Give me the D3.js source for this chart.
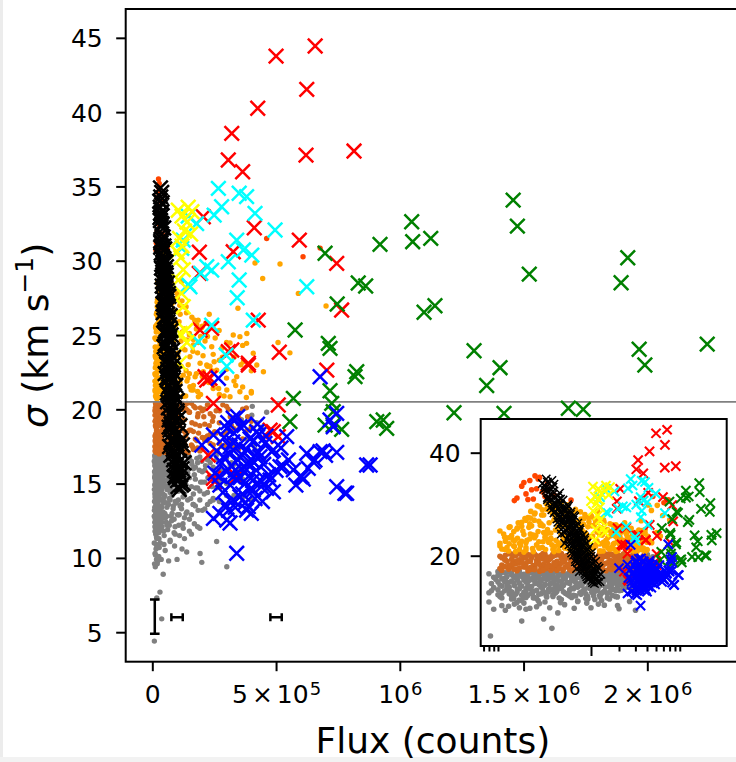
<!DOCTYPE html>
<html>
<head>
<meta charset="utf-8">
<script src="https://cdn.jsdelivr.net/npm/d3@7"></script>
<style>
	body { margin: 0; background: #fff; }
	svg { display: block; font-family: "DejaVu Sans", sans-serif; }
</style>
</head>
<body>
<div id="chart"></div>
<script>
//------------------------------------------------------------------------------
// Data: [flux (10^3 counts), sigma (km/s)]
//------------------------------------------------------------------------------

var grayPts = [
	[8,16.5],[9,15.8],[12,16.7],[15,14.2],[18,16.1],[22,15.3],[25,16.8],[30,13.9],[35,16.4],[40,15.1],
	[8.5,13.2],[10,12.4],[13,14.8],[16,12.9],[20,13.6],[24,11.8],[28,14.9],[33,12.2],[38,13.4],[44,16.0],
	[8,11.0],[11,10.3],[14,11.6],[17,9.9],[19,10.8],[23,12.7],[27,11.3],[31,15.6],[36,14.4],[42,12.9],
	[8.5,14.6],[9,13.8],[12,15.2],[14,16.3],[17,14.7],[21,16.6],[26,15.8],[29,12.6],[34,15.9],[39,16.7],
	[9.5,15.4],[10,16.9],[13,13.5],[16,15.9],[19,12.0],[23,14.0],[27,16.2],[32,14.5],[37,16.2],[43,14.3],
	[8,12.8],[11,14.1],[15,10.6],[18,11.3],[21,15.0],[24,13.1],[26,10.1],[30,16.5],[35,13.0],[41,15.5],
	[9,9.6],[12,9.4],[16,10.9],[20,11.9],[22,9.8],[25,14.6],[29,15.3],[33,16.9],[46,13.7],[48,15.0],
	[50,16.6],[55,14.8],[60,16.1],[65,13.6],[70,15.7],[75,16.9],[80,14.2],[88,16.4],[95,15.3],[100,16.8],
	[105,13.9],[112,15.9],[120,16.5],[128,14.7],[135,16.1],[142,15.4],[150,16.8],[160,16.3],[170,15.6],[180,16.7],
	[190,15.9],[200,16.5],[215,16.2],[230,16.8],[245,16.0],[260,16.6],[280,16.3],[300,16.9],[320,16.4],[350,16.7],
	[58,12.8],[62,11.9],[68,14.9],[78,12.5],[85,13.5],[92,12.1],[98,14.5],[108,12.9],[118,13.3],[125,12.0],
	[132,15.0],[140,13.1],[155,14.0],[165,13.6],[175,14.7],[185,13.2],[195,15.1],[210,14.3],[225,15.4],[240,14.8],
	[255,15.6],[270,15.2],[52,10.5],[72,11.2],[90,10.8],[110,11.5],[139,10.4],[193,10.3],[200,9.7],[260,11.1],
	[301,9.4],[44,8.9],[31,7.7],[38,5.9],[8.3,4.4],[18,7.3],[150,11.8],[170,12.3],[100,9.9],
	[300,18.5],[404,20.2],[462,19.8],[402,19.6],[422,19.1],[408,17.6],[415,17.3],[449,16.6],[380,18.0],[440,18.8],
	[330,17.5],[360,19.3],
	[10,16.2],[11,16.8],[12.5,15.9],[14,16.6],[15.5,16.0],[17,16.9],[19,16.4],[21,15.8],[23.5,16.7],[26,16.1],
	[29,16.8],[32,15.7],[35,16.6],[39,16.2],[43,16.9],[48,16.3],[53,15.9],[59,16.7],[65,16.2],[72,16.8],
	[80,15.8],[88,16.5],[97,16.1],[107,16.7],[118,16.2],[130,16.9],[143,15.9],[158,16.5],[174,16.1],[192,16.8],
	[212,15.9],[234,16.4],[258,16.9],[285,15.8],[315,16.2],[348,16.0],[385,16.5],
	[10,14.9],[11,15.5],[12.5,14.4],[14,15.1],[15.5,15.7],[17,14.6],[19,15.3],[21,14.2],[23.5,15.6],[26,14.7],
	[29,15.1],[32,14.3],[35,15.5],[39,14.8],[43,15.3],[48,14.1],[53,15.6],[59,14.6],[65,15.2],[72,14.4],
	[80,15.5],[88,14.9],[97,15.4],[107,14.5],[118,15.1],[130,14.3],[143,15.7],[158,14.8],[174,15.3],[192,14.5],
	[212,15.1],[234,15.5],[258,14.7],[285,15.2],[315,15.6],
	[10,13.4],[11,12.7],[12.5,13.9],[14,13.0],[15.5,12.5],[17,13.6],[19,12.9],[21,13.8],[23.5,12.6],[26,13.3],
	[29,13.9],[32,12.8],[35,13.5],[39,12.4],[43,13.1],[48,13.8],[53,12.7],[59,13.4],[65,12.3],[72,13.9],
	[80,13.0],[88,12.6],[97,13.7],[107,12.9],[118,13.6],[130,12.7],[143,13.9],[158,12.9],[174,13.5],[192,13.9],
	[212,13.3],[234,13.8],
	[11,11.8],[14,12.2],[17,11.4],[21,12.3],[26,11.7],[32,11.0],[39,12.1],[48,11.5],[59,12.2],[72,11.1],
	[88,11.7],[107,12.2],[130,11.3],[158,11.6],[192,12.0],
	[13,10.2],[20,9.6],[28,10.7],[36,9.9],[47,10.9],[66,9.8],[120,10.6],
	[10.5,16.4],[11.8,15.6],[13.2,16.8],[14.8,15.9],[16.2,16.5],[18,16.0],[20,15.5],[22.3,16.7],[24.7,16.2],[27.5,15.7],
	[30.5,16.6],[33.5,16.1],[37,15.8],[41,16.9],[45.5,16.3],[50.5,15.6],[56,16.5],[62,16.0],[68.5,16.8],[76,15.7],
	[84,16.4],[92.5,16.1],[102,15.9],[112.5,16.6],[124,16.2],[136.5,15.5],[150,16.8],[166,16.0],[183,16.4],[202,15.8],
	[223,16.6],[246,16.1],[271,15.9],[300,16.7],[330,16.3],[365,16.0],[400,16.5],
	[10.5,14.3],[11.8,15.0],[13.2,13.9],[14.8,14.7],[16.2,15.3],[18,14.1],[20,14.9],[22.3,13.8],[24.7,15.2],[27.5,14.4],
	[30.5,14.0],[33.5,15.4],[37,14.6],[41,13.9],[45.5,15.1],[50.5,14.2],[56,14.8],[62,15.3],[68.5,14.0],[76,14.6],
	[84,15.0],[92.5,13.8],[102,14.5],[112.5,15.2],[124,14.1],[136.5,14.9],[150,15.4],[166,14.3],[183,14.7],[202,15.1],
	[223,14.4],[246,13.9],[271,14.8],[300,15.0],[330,14.2],[365,15.3],[400,14.6],
	[10.5,12.1],[11.8,13.2],[13.2,12.6],[14.8,11.7],[16.2,13.5],[18,12.3],[20,12.9],[22.3,13.6],[24.7,11.9],[27.5,12.5],
	[30.5,13.1],[33.5,12.0],[37,13.4],[41,12.7],[45.5,11.8],[50.5,13.0],[56,12.4],[62,13.7],[68.5,12.2],[76,12.8],
	[84,13.3],[92.5,11.6],[102,12.9],[112.5,13.5],[124,12.3],[136.5,13.0],[150,12.6],[166,13.6],[183,12.1],[202,13.2],
	[223,13.6],[246,14.0],[271,13.8],[300,14.2],[330,13.7],[365,14.1],[400,13.9]
];

var brownPts = [
	[11,18.2],[12,20.1],[13,17.4],[14,19.3],[15,18.8],[16,17.1],[17,20.4],[18,19.0],[19,17.8],[20,18.5],
	[21,20.2],[22,17.3],[23,19.6],[24,18.1],[25,17.6],[26,20.0],[27,18.9],[28,17.0],[30,19.4],[31,18.4],
	[32,20.3],[33,17.5],[35,19.1],[36,18.0],[37,17.2],[39,19.9],[40,18.6],[42,17.7],[44,20.2],[46,18.3],
	[48,19.5],[50,17.1],[52,18.8],[55,20.0],[57,17.9],[60,19.2],[62,18.4],[65,17.3],[68,20.4],[70,18.9],
	[73,17.6],[76,19.7],[80,18.1],[83,20.1],[86,17.2],[90,19.0],[94,18.5],[98,17.8],[102,20.3],[106,19.4],
	[110,17.4],[115,18.7],[120,20.0],[125,17.9],[130,19.3],[135,18.2],[140,20.4],[145,17.1],[150,19.8],[156,18.6],
	[162,17.5],[168,20.2],[174,19.0],[180,17.9],[187,18.4],[194,20.1],[200,17.3],[208,19.5],[216,18.1],[225,20.3],
	[234,17.7],[243,19.2],[252,18.5],[262,17.2],[272,19.9],[283,18.3],[295,17.6],[307,20.0],[320,18.9],[335,17.4],
	[350,19.4],[365,18.0],[380,20.1],[160,19.1],[185,19.7],[210,20.0],[130,17.7],[95,20.2],[75,18.3],[230,18.9],
	[12,19.2],[14,17.9],[17,18.6],[20,19.8],[24,20.4],[29,17.9],[34,19.0],[38,20.0],[45,17.5],[53,19.9],
	[11,19.6],[12.5,17.8],[14,20.3],[15.5,18.4],[17,17.6],[19,19.7],[21,18.9],[23.5,17.4],[26,19.1],[29,20.1],
	[32,18.0],[35,19.7],[39,17.5],[43,18.9],[48,20.4],[53,17.8],[59,19.6],[65,18.6],[72,20.0],[80,17.4],
	[88,19.3],[97,18.3],[107,17.6],[118,19.1],[130,20.2],[143,18.5],[158,17.6],[174,20.1],[192,18.9],[212,17.9],
	[234,19.7],[258,18.4],[285,20.3],[315,17.8],[348,19.0],[385,18.6],
	[11,17.2],[12.5,18.9],[14,18.3],[15.5,20.0],[17,19.2],[19,18.1],[21,17.1],[23.5,20.2],[26,18.5],[29,17.3],
	[32,19.3],[35,18.2],[39,20.3],[43,17.2],[48,18.6],[53,19.4],[59,17.3],[65,20.3],[72,18.2],[80,19.5],
	[88,17.6],[97,20.1],[107,18.9],[118,17.6],[130,18.5],[143,19.9],[158,20.4],[174,18.0],[192,17.2],[212,19.0],
	[234,18.3],[258,19.9],[285,17.5],[315,19.5],[348,17.3],[385,19.5],
	[10.5,17.5],[11.8,19.2],[13.2,18.1],[14.8,20.0],[16.2,17.3],[18,18.8],[20,19.6],[22.3,17.7],[24.7,20.3],[27.5,18.4],
	[30.5,17.2],[33.5,19.4],[37,18.0],[41,20.1],[45.5,17.6],[50.5,19.0],[56,18.3],[62,17.1],[68.5,19.8],[76,18.7],
	[84,17.4],[92.5,20.2],[102,18.2],[112.5,19.3],[124,17.8],[136.5,20.0],[150,18.6],[166,17.3],[183,19.5],[202,18.1],
	[223,20.3],[246,17.6],[271,19.1],[300,18.4],[330,17.9],[365,20.0],[400,18.8],
	[10.5,19.9],[11.8,17.9],[13.2,20.4],[14.8,17.4],[16.2,19.0],[18,20.1],[20,17.8],[22.3,18.9],[24.7,17.3],[27.5,19.7],
	[30.5,20.4],[33.5,17.9],[37,19.5],[41,18.3],[45.5,20.2],[50.5,17.4],[56,19.9],[62,18.6],[68.5,17.5],[76,20.3],
	[84,18.9],[92.5,17.7],[102,19.6],[112.5,18.0],[124,20.4],[136.5,17.2],[150,19.8],[166,18.5],[183,17.4],[202,19.9],
	[223,18.2],[246,19.5],[271,17.7],[300,20.2],[330,18.7],[365,17.5],[400,19.2]
];

var orangePts = [
	[11,21.3],[12,22.8],[13,20.9],[14,23.9],[15,21.8],[16,25.2],[17,22.4],[18,26.5],[19,24.1],[20,21.1],
	[21,27.4],[22,23.3],[23,25.8],[24,20.8],[25,28.3],[26,22.1],[27,24.7],[28,29.5],[29,26.2],[30,21.6],
	[31,27.9],[32,23.6],[33,30.1],[34,25.1],[35,22.6],[36,28.8],[37,24.4],[38,29.9],[39,21.2],[40,26.9],
	[42,23.0],[43,28.1],[44,25.6],[45,30.3],[46,22.2],[48,27.2],[49,24.0],[50,29.2],[52,21.5],[53,26.3],
	[55,23.7],[56,28.5],[58,25.3],[60,20.9],[62,27.7],[64,22.9],[66,24.9],[68,29.0],[70,21.9],[72,26.0],
	[75,23.4],[78,27.1],[80,25.0],[83,21.4],[86,28.0],[89,24.2],[92,22.5],[95,26.6],[98,20.7],[100,27.8],
	[104,23.8],[108,25.9],[112,21.8],[116,24.6],[120,27.3],[125,22.3],[130,25.4],[135,20.9],[139,24.66],[145,23.0],
	[152,23.54],[152,21.52],[160,26.2],[166,24.33],[173,22.19],[180,25.7],[186,20.85],[193,23.1],[200,25.5],[206,22.53],
	[213,24.6],[220,22.98],[230,26.4],[240,24.21],[247,21.64],[260,22.64],[270,25.3],[280,24.1],[290,20.9],[301,21.3],
	[314,20.85],[327,25.0],[341,22.19],[346,26.8],[354,24.89],[354,21.18],[368,23.2],[381,24.44],[382,25.1],[400,21.2],
	[408,23.77],[415,29.85],[422,22.98],[446,28.8],[449,22.53],[508,24.5],[516,29.78],[556,23.8],[590,27.8],[702,26.95],
	[314,24.46],[250,23.2],[233,22.9],[195,24.9],[185,26.0],[178,25.4],[165,21.3],[140,21.9],[128,26.9],[118,28.6],
	[10.5,22.4],[11.5,24.2],[12.5,21.6],[13.5,25.6],[14.5,23.1],[15.5,20.8],[16.5,26.4],[17.5,22.0],[18.5,24.8],[19.5,27.2],
	[20.5,23.0],[21.5,25.5],[22.5,28.6],[23.5,21.4],[24.5,26.9],[25.5,23.9],[26.5,29.7],[27.5,22.7],[28.5,25.9],[29.5,27.9],
	[31,24.5],[32.5,21.2],[34,29.2],[35.5,26.4],[37,23.4],[38.5,28.2],[40,20.8],[41.5,25.0],[43,27.4],[44.5,22.5],
	[46,29.8],[47.5,24.1],[49,26.8],[51,21.9],[53,28.6],[55,25.6],[57,23.0],[59,27.3],[61,21.2],[63,25.1],
	[65,28.3],[67,22.6],[69,26.5],[71,24.0],[74,20.8],[77,28.5],[80,22.8],[83,26.1],[86,24.5],[90,21.9],
	[94,27.4],[98,23.6],[102,25.8],[106,21.5],[111,27.0],[116,22.9],[121,25.2],[126,20.9],[132,24.0],[138,26.5],
	[144,22.1],[150,25.0],[157,21.3],[164,23.9],[171,26.0],[178,22.4],[186,24.5],[195,21.0],[205,23.6],[216,25.8],
	[228,21.8],[240,22.6],[254,24.8],[268,21.4],[283,23.5],[300,22.1],[318,24.0],[337,21.6],[358,23.0],[380,20.8],
	[20,22.5],[24,24.0],[28,21.5],[33,23.3],[38,22.1],[45,21.0],[52,23.8],[60,22.6],[70,23.3],[85,20.9],
	[15,22.9],[17,21.2],[22,26.2],[30,28.9],[36,30.0],[42,29.3],[56,29.9],[48,30.4],[19,20.7],[13,23.5],
	[10.5,21.9],[11.8,23.6],[13.2,22.3],[14.8,24.7],[16.2,25.4],[18,22.8],[20,26.9],[22.3,24.2],[24.7,28.1],[27.5,21.5],
	[30.5,25.8],[33.5,29.0],[37,23.2],[41,27.6],[45.5,22.0],[50.5,26.1],[56,28.9],[62,24.6],[68.5,21.7],[76,25.9],
	[84,27.2],[92.5,23.0],[102,21.3],[112.5,26.4],[124,24.1],[136.5,22.6],[150,25.1],[166,21.6],[183,23.8],[202,22.2],
	[223,24.9],[246,21.4],[271,23.3],[300,22.7],[330,21.9],[365,24.3],[400,21.1],
	[10.5,24.8],[11.8,21.2],[13.2,25.5],[14.8,21.9],[16.2,23.4],[18,25.7],[20,21.6],[22.3,27.3],[24.7,23.5],[27.5,26.7],
	[30.5,22.7],[33.5,24.3],[37,29.6],[41,21.8],[45.5,25.3],[50.5,23.1],[56,21.4],[62,27.8],[68.5,26.3],[76,23.4],
	[84,21.8],[92.5,25.6],[102,27.5],[112.5,22.1],[124,20.9],[136.5,26.9],[150,22.4],[166,24.7],[183,21.2],[202,25.6],
	[223,22.9],[246,23.7],[271,21.0],[300,24.5],[330,23.5],[365,21.5],[400,22.6]
];

var orangeredPts = [
	[16,31.2],[18,33.5],[20,32.0],[22,34.6],[24,31.0],[26,33.0],[28,35.2],[30,32.4],[32,31.5],[34,34.0],
	[36,30.8],[25,35.5],[21,30.9],[19,34.2],[23,32.8],[462,31.5],[609,30.27],[678,30.85],[61,30.8],[40,31.8],
	[15,30.7],[27,34.9]
];

var blackPts = [
	[33,34.9],[34,34.3],[32,33.6],[36,33.0],[35,32.3],[38,31.8],[41,31.4],[37,31.0],[44,30.7],[40,30.3],
	[47,30.0],[43,29.7],[50,29.4],[45,29.1],[52,28.8],[47,28.5],[55,28.2],[49,27.9],[53,27.6],[58,27.3],
	[51,27.0],[57,26.7],[62,26.4],[54,26.1],[60,25.8],[65,25.5],[57,25.2],[63,24.9],[68,24.6],[60,24.3],
	[66,24.0],[71,23.7],[63,23.4],[69,23.1],[75,22.8],[67,22.5],[73,22.2],[79,21.9],[70,21.6],[77,21.3],
	[83,21.0],[74,20.7],[81,20.4],[88,20.1],[78,19.8],[86,19.5],[93,19.2],[82,18.9],[90,18.6],[98,18.3],
	[87,18.0],[95,17.7],[104,17.4],[91,17.1],[100,16.8],[110,16.5],[96,16.2],[106,15.9],[115,15.6],[102,15.2],
	[118,14.9],[109,14.6],
	[39,33.3],[33,32.7],[44,31.6],[36,30.5],[42,29.9],[55,29.2],[41,28.6],[60,28.0],[46,27.4],[64,26.9],
	[50,26.2],[70,25.7],[53,25.0],[74,24.5],[58,23.9],[78,23.3],[62,22.7],[84,22.0],[66,21.5],[90,20.9],
	[72,20.2],[97,19.6],[76,19.0],[104,18.4],[80,17.8],[112,17.2],[86,16.6],[120,16.0],[94,15.4],[125,15.0],
	[70,17.5],[68,18.8],[62,20.5],[52,22.4],[48,24.2],[44,26.5],[38,28.9],[34,30.9],[100,19.9],[92,21.2],
	[85,23.0],[75,25.3],[65,27.8],[57,29.6],[75,16.9],[98,15.8],
	[30,34.0],[38,34.6],[31,32.9],[40,33.9],[34,31.3],[46,32.2],[37,29.5],[50,30.8],[40,28.3],[56,29.9],
	[43,27.1],[61,28.5],[46,26.0],[67,27.6],[48,25.1],[72,26.3],[52,24.4],[76,25.0],[55,23.2],[82,24.0],
	[58,22.1],[86,23.5],[61,21.1],[90,22.4],[65,20.1],[95,21.6],[68,19.3],[101,20.6],[72,18.6],[106,19.4],
	[77,17.9],[112,18.9],[82,17.0],[117,17.9],[88,16.3],[122,17.6],[92,15.5],[113,15.3],[104,14.8],[128,16.4],
	[35,31.2],[42,30.1],[45,28.0],[49,26.6],[56,25.4],[60,23.0],[64,22.0],[70,21.0],[74,19.6],[79,18.4],
	[84,17.3],[90,15.9],[33,33.2],[39,32.5],[47,31.0],[53,29.0],[58,27.0],[63,25.9],[69,24.7],[80,22.2]
];

var yellowPts = [
	[105,33.4],[120,33.0],[140,32.6],[160,33.3],[130,32.0],[155,31.8],[110,31.5],[115,30.2],[125,29.4],[105,28.7],
	[118,27.8],[125,26.9],[135,25.3],[140,24.5],[112,25.1],[110,23.1],[120,31.0],[100,30.6],[145,33.6]
];

var cyanPts = [
	[267,34.87],[351,34.54],[381,34.31],[280,33.63],[415,33.19],[250,33.07],[145,33.0],[179,32.5],[496,32.07],[125,31.39],
	[119,30.83],[341,31.39],[368,30.72],[402,30.38],[307,29.93],[220,29.6],[240,29.37],[351,28.7],[152,28.25],[624,28.25],
	[343,27.51],[408,26.0],[240,25.67],[186,24.55],[298,23.65],[301,22.9],[196,29.15],[145,28.4]
];

var redPts = [
	[658,44.45],[500,43.77],[624,41.53],[426,40.26],[321,38.57],[621,37.11],[815,37.38],[307,36.78],[365,35.99],[206,32.96],
	[412,32.22],[190,30.57],[327,30.6],[190,29.15],[594,31.39],[745,29.82],[765,26.68],[428,26.0],[193,25.34],[240,25.45],
	[321,23.99],[513,23.84],[388,22.98],[213,22.19],[705,22.64],[307,23.88],[220,21.97],[247,20.4],[509,20.29],[226,16.92],
	[247,15.36],[489,18.5],[509,18.16],[341,15.47],[388,23.1],[233,22.09],[253,15.13],[476,18.6]
];

var bluePts = [
	[267,22.09],[678,22.19],[327,19.4],[200,17.6],[247,18.27],[301,18.72],[354,18.83],[422,18.5],[482,17.15],[543,18.16],
	[624,17.04],[678,17.15],[657,16.59],[745,14.79],[785,14.35],[866,16.25],[253,15.7],[273,14.9],[327,15.47],[381,15.92],
	[408,16.47],[435,16.81],[354,16.81],[314,17.48],[273,13.0],[301,12.55],[247,12.66],[388,13.45],[341,10.31],[462,14.68],
	[489,14.45],[570,15.92],[597,15.47],[516,16.14],[435,15.24],[408,14.57],[354,14.12],[327,13.9],[381,13.22],[745,19.73],
	[731,18.83],[718,19.28],[489,17.26],[529,16.14],[604,15.47],[650,16.47],[630,16.03],[778,14.35],[476,15.24],[880,16.25],
	[314,12.35],[400,13.0],
	[260,17.2],[280,16.4],[290,18.1],[300,15.8],[310,17.0],[320,16.2],[330,18.4],[340,15.3],[350,17.6],[360,16.0],
	[370,18.9],[380,17.3],[390,15.5],[400,16.6],[410,17.9],[420,15.9],[430,17.1],[440,14.8],[450,16.3],[460,18.2],
	[470,15.6],[285,14.4],[295,13.6],[305,19.1],[315,14.9],[335,13.4],[345,19.5],[365,14.3],[375,13.7],[395,18.0],
	[415,14.0],[425,19.0],[445,13.8],[455,17.7],[365,16.9],[385,16.3],[345,16.6],[325,17.8],[405,15.2],[375,15.0],
	[335,15.9],[355,15.4],[395,14.6],[415,16.9],[430,18.3],[270,15.5],[288,16.8],[308,13.2],[500,15.9],[520,17.4],
	[550,16.6],[580,14.9],[610,15.3],[700,16.9],[690,17.2],[745,17.1]
];

var greenPts = [
	[570,20.74],[577,25.34],[556,19.17],[698,30.5],[747,27.09],[711,24.44],[718,24.1],[718,21.25],[725,20.4],[731,19.84],
	[698,18.94],[731,18.94],[765,18.65],[826,22.53],[819,22.2],[832,28.5],[862,28.3],[907,19.17],[920,31.1],[933,19.28],
	[947,18.72],[1048,32.62],[1052,31.28],[1098,26.53],[1125,31.5],[1142,26.97],[1219,19.77],[1300,23.94],[1351,21.6],[1405,22.8],
	[1421,19.73],[1458,34.08],[1475,32.33],[1523,29.1],[1681,20.07],[1741,20.0],[1894,28.52],[1921,30.2],[1967,24.04],[1990,22.98],
	[2242,24.39]
];

// typical error bars
var errFlux  = [10, 100, 500];
var errSigma = [6.05, 6.0, 6.0];
var errXerr  = [0, 23, 23];
var errYerr  = [1.15, 0, 0];

var sigmaCut = 20.5;

// ticks
var yTicks        = [5, 10, 15, 20, 25, 30, 35, 40, 45];
var xTicks        = [0, 500, 1000, 1500, 2000];
var xTickMantissa = ["0", "5", "", "1.5", "2"];
var xTickExponent = ["", "5", "6", "6", "6"];
var insetYTicks   = [20, 40];
var insetMajor    = [100];
var insetMinor    = [7, 8, 9, 10, 200, 300, 400, 500, 600, 700, 800, 900];


//------------------------------------------------------------------------------
// Helpers
//------------------------------------------------------------------------------

function cross_path(h) {
	return "M" + (-h) + "," + (-h) + "L" + h + "," + h + "M" + (-h) + "," + h + "L" + h + "," + (-h);
}

function draw_dots(g, pts, xs, ys, r, color) {
	g.append("g").selectAll("circle")
		.data(pts)
		.enter().append("circle")
		.attr("cx", function(d) { return xs(d[0]); })
		.attr("cy", function(d) { return ys(d[1]); })
		.attr("r", r)
		.attr("fill", color);
}

function draw_crosses(g, pts, xs, ys, h, color, w) {
	g.append("g").selectAll("path")
		.data(pts)
		.enter().append("path")
		.attr("transform", function(d) { return "translate(" + xs(d[0]) + "," + ys(d[1]) + ")"; })
		.attr("d", cross_path(h))
		.attr("fill", "none")
		.attr("stroke", color)
		.attr("stroke-width", w);
}

var dotSeries = [
	{pts: grayPts, color: "#808080"},
	{pts: brownPts, color: "#d2691e"},
	{pts: orangePts, color: "#ffa500"},
	{pts: orangeredPts, color: "#ff4500"}
];

var crossSeries = [
	{pts: redPts, color: "#ff0000"},
	{pts: cyanPts, color: "#00ffff"},
	{pts: yellowPts, color: "#ffff00"},
	{pts: greenPts, color: "#008000"},
	{pts: bluePts, color: "#0000ff"},
	{pts: blackPts, color: "#000000"}
];


//------------------------------------------------------------------------------
// Main plot
//------------------------------------------------------------------------------

function plot_main(svg) {
	var left = 125.7, right = 740, top = 9, bottom = 661.7;

	var x = d3.scaleLinear().domain([-107.5, 2374.5]).range([left, right]);
	var y = d3.scaleLinear().domain([3.015, 46.94]).range([bottom, top]);

	svg.append("clipPath").attr("id", "mainclip")
		.append("rect").attr("x", left).attr("y", top)
		.attr("width", right - left).attr("height", bottom - top);

	var g = svg.append("g").attr("clip-path", "url(#mainclip)");

	dotSeries.forEach(function(s) { draw_dots(g, s.pts, x, y, 2.7, s.color); });

	g.append("line")
		.attr("x1", left).attr("x2", right)
		.attr("y1", y(sigmaCut)).attr("y2", y(sigmaCut))
		.attr("stroke", "#808080").attr("stroke-width", 1.6);

	crossSeries.forEach(function(s) {
		draw_crosses(g, s.pts, x, y, 7.3, s.color, 2.5);
	});

	// error bars
	var eb = g.append("g").attr("stroke", "#000").attr("stroke-width", 2.5);
	errFlux.forEach(function(f, i) {
		var cx = x(f), cy = y(errSigma[i]);
		if (errYerr[i] > 0) {
			var y0 = y(errSigma[i] - errYerr[i]), y1 = y(errSigma[i] + errYerr[i]);
			eb.append("line").attr("x1", cx).attr("x2", cx).attr("y1", y0).attr("y2", y1);
			eb.append("line").attr("x1", cx - 4.8).attr("x2", cx + 4.8).attr("y1", y0).attr("y2", y0);
			eb.append("line").attr("x1", cx - 4.8).attr("x2", cx + 4.8).attr("y1", y1).attr("y2", y1);
		}
		if (errXerr[i] > 0) {
			var x0 = x(f - errXerr[i]), x1 = x(f + errXerr[i]);
			eb.append("line").attr("x1", x0).attr("x2", x1).attr("y1", cy).attr("y2", cy);
			eb.append("line").attr("x1", x0).attr("x2", x0).attr("y1", cy - 4).attr("y2", cy + 4);
			eb.append("line").attr("x1", x1).attr("x2", x1).attr("y1", cy - 4).attr("y2", cy + 4);
		}
	});

	// axes
	var yAxis = d3.axisLeft(y).tickValues(yTicks).tickSize(9.5).tickSizeOuter(0);
	var ya = svg.append("g").attr("transform", "translate(" + left + ",0)").call(yAxis);
	ya.select(".domain").remove();
	ya.selectAll("line").attr("stroke-width", 2);
	ya.selectAll("text").attr("font-size", 25).attr("font-family", "DejaVu Sans")
		.attr("fill", "#000").attr("dy", "0.36em").attr("x", -23);

	var xAxis = d3.axisBottom(x).tickValues(xTicks).tickSize(9.5).tickSizeOuter(0).tickFormat("");
	var xa = svg.append("g").attr("transform", "translate(0," + bottom + ")").call(xAxis);
	xa.select(".domain").remove();
	xa.selectAll("line").attr("stroke-width", 2);
	xa.selectAll(".tick").each(function(d, i) {
		var t = d3.select(this).append("text")
			.attr("y", 41.5).attr("fill", "#000")
			.attr("font-size", 25).attr("font-family", "DejaVu Sans")
			.attr("text-anchor", "middle");
		var m = xTickMantissa[i], e = xTickExponent[i];
		if (e === "") { t.text(m); return; }
		if (m !== "") {
			t.append("tspan").text(m);
			t.append("tspan").attr("dx", 4).text("\u00d7");
			t.append("tspan").attr("dx", 4).text("10");
		} else {
			t.append("tspan").text("10");
		}
		t.append("tspan").attr("dx", 1).attr("dy", -8).attr("font-size", 18).text(e);
	});

	// spines (right spine lies just outside the picture)
	svg.append("rect")
		.attr("x", left).attr("y", top)
		.attr("width", right - left).attr("height", bottom - top)
		.attr("fill", "none").attr("stroke", "#000").attr("stroke-width", 2);

	// axis titles
	svg.append("text")
		.attr("x", (left + right) / 2).attr("y", 753)
		.attr("text-anchor", "middle").attr("font-size", 36)
		.text("Flux (counts)");

	var yl = svg.append("text")
		.attr("transform", "translate(48," + ((top + bottom) / 2) + ") rotate(-90)")
		.attr("text-anchor", "middle").attr("font-size", 36);
	yl.append("tspan").attr("font-style", "italic").text("\u03c3");
	yl.append("tspan").text(" (km s");
	yl.append("tspan").attr("dy", -15).attr("font-size", 25).text("\u22121");
	yl.append("tspan").attr("dy", 15).text(")");
}


//------------------------------------------------------------------------------
// Inset (log flux)
//------------------------------------------------------------------------------

function plot_inset(svg) {
	var left = 480.7, right = 726.7, top = 419, bottom = 646;

	var x = d3.scaleLog().domain([6.52, 2877]).range([left, right]);
	var y = d3.scaleLinear().domain([2.47, 46.54]).range([bottom, top]);

	svg.append("rect")
		.attr("x", left).attr("y", top)
		.attr("width", right - left).attr("height", bottom - top)
		.attr("fill", "#fff");

	svg.append("clipPath").attr("id", "insetclip")
		.append("rect").attr("x", left).attr("y", top)
		.attr("width", right - left).attr("height", bottom - top);

	var g = svg.append("g").attr("clip-path", "url(#insetclip)");

	dotSeries.forEach(function(s) { draw_dots(g, s.pts, x, y, 2.8, s.color); });
	crossSeries.forEach(function(s) {
		var black = s.color === "#000000";
		draw_crosses(g, s.pts, x, y, black ? 4.2 : 4.6, s.color, black ? 1.5 : 2.1);
	});

	var yAxis = d3.axisLeft(y).tickValues(insetYTicks).tickSize(10).tickSizeOuter(0);
	var ya = svg.append("g").attr("transform", "translate(" + left + ",0)").call(yAxis);
	ya.select(".domain").remove();
	ya.selectAll("line").attr("stroke-width", 2);
	ya.selectAll("text").attr("font-size", 25).attr("font-family", "DejaVu Sans")
		.attr("fill", "#000").attr("dy", "0.36em").attr("x", -20);

	var xMaj = d3.axisBottom(x).tickValues(insetMajor).tickSize(10).tickSizeOuter(0).tickFormat("");
	var xMin = d3.axisBottom(x).tickValues(insetMinor).tickSize(5.5).tickSizeOuter(0).tickFormat("");
	[xMaj, xMin].forEach(function(ax) {
		var a = svg.append("g").attr("transform", "translate(0," + bottom + ")").call(ax);
		a.select(".domain").remove();
		a.selectAll("line").attr("stroke-width", 2);
	});

	svg.append("rect")
		.attr("x", left).attr("y", top)
		.attr("width", right - left).attr("height", bottom - top)
		.attr("fill", "none").attr("stroke", "#000").attr("stroke-width", 2);
}


//------------------------------------------------------------------------------
// Main
//------------------------------------------------------------------------------

function main() {
	var svg = d3.select("#chart").append("svg")
		.attr("width", 736).attr("height", 762);

	svg.append("rect").attr("width", 736).attr("height", 762).attr("fill", "#fff");
	// faint page edges of the original picture
	svg.append("rect").attr("x", 0).attr("y", 0).attr("width", 3).attr("height", 762).attr("fill", "#ececec");
	svg.append("rect").attr("x", 0).attr("y", 757).attr("width", 736).attr("height", 5).attr("fill", "#f2f2f2");

	plot_main(svg);
	plot_inset(svg);
}

window.addEventListener('load', main, false);
</script>
</body>
</html>
